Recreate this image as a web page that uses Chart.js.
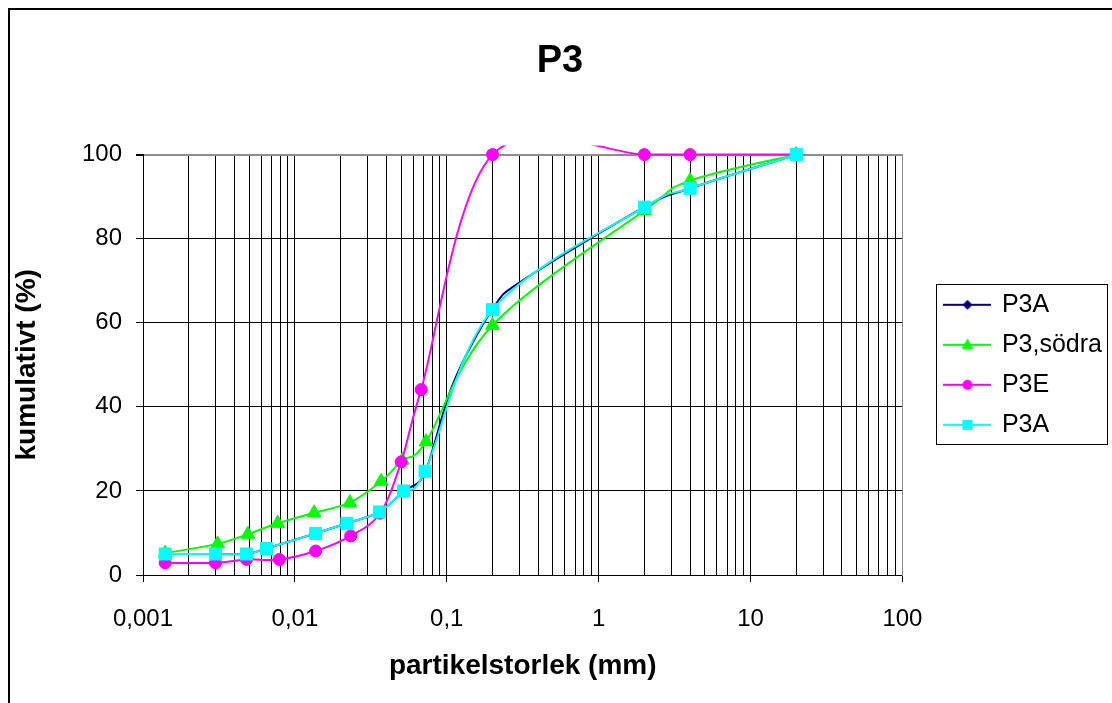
<!DOCTYPE html>
<html lang="sv">
<head>
  <meta charset="UTF-8" />
  <title>P3</title>
  <style>
    body { margin: 0; padding: 0; background: #fff; }
    .wrap { width: 1112px; height: 703px; position: relative; }
  </style>
</head>
<body>
  <div class="wrap"><canvas id="chart"></canvas></div>

  <script src="https://cdn.jsdelivr.net/npm/chart.js"></script>
  <script>
    // particle size (mm) / cumulative passing (%)
    const navyX = [0.0014, 0.003, 0.0048, 0.0065, 0.0137, 0.022, 0.036, 0.052, 0.072, 0.11, 0.2, 0.32, 2, 4, 20];
    const navyY = [5, 5, 5, 6.3, 9.9, 12.3, 15, 20, 24.5, 45.5, 63.2, 70.2, 87.5, 92, 100];

    const greenX = [0.0014, 0.0031, 0.0049, 0.0077, 0.0134, 0.023, 0.037, 0.051, 0.073, 0.2, 2, 4, 20];
    const greenY = [5.2, 7.4, 9.7, 12.3, 14.8, 17.2, 22.3, 27.3, 31.7, 59.4, 86.7, 93.8, 100];

    const magentaX = [0.0014, 0.003, 0.0048, 0.0079, 0.0137, 0.0233, 0.0364, 0.0501, 0.0678, 0.2, 2, 4, 20];
    const magentaY = [2.9, 2.9, 3.7, 3.7, 5.7, 9.3, 14.7, 26.9, 44.1, 100, 100, 100, 100];

    const cyanX = [0.0014, 0.003, 0.0048, 0.0065, 0.0137, 0.022, 0.036, 0.052, 0.072, 0.2, 2, 4, 20];
    const cyanY = [5, 5, 5, 6.3, 9.9, 12.3, 15, 20, 24.7, 63.1, 87.5, 92, 100];

    const seriesNames = ["P3A", "P3,södra", "P3E", "P3A"];
    const decadeValues = [0.001, 0.01, 0.1, 1, 10, 100];
    const decadeLabels = ["0,001", "0,01", "0,1", "1", "10", "100"];

    // navy points drawn without a marker in the original
    const navyNoMarkerX = [0.11, 0.32];

    const font = "'Liberation Sans', Arial, sans-serif";

    function pts(xs, ys) {
      return xs.map((x, i) => ({ x: x, y: ys[i] }));
    }

    function isDecade(v) {
      return decadeValues.some(d => Math.abs(d - v) / d < 1e-6);
    }

    // gridline positions 1..9 x 10^n
    const xTickValues = [];
    for (let e = -3; e <= 1; e++) {
      for (let m = 1; m <= 9; m++) xTickValues.push(Number((m * Math.pow(10, e)).toPrecision(3)));
    }
    xTickValues.push(100);

    function legendIcon(color, shape, r) {
      const c = document.createElement("canvas");
      c.width = 48; c.height = 18;
      const g = c.getContext("2d");
      g.strokeStyle = color; g.lineWidth = 2;
      g.beginPath(); g.moveTo(0, 9); g.lineTo(48, 9); g.stroke();
      g.fillStyle = color;
      g.beginPath();
      if (shape === "diamond") {
        g.moveTo(24, 9 - r); g.lineTo(24 + r, 9); g.lineTo(24, 9 + r); g.lineTo(24 - r, 9);
      } else if (shape === "triangle") {
        g.moveTo(24, 9 - r); g.lineTo(24 + r * 0.9, 9 + r * 0.6); g.lineTo(24 - r * 0.9, 9 + r * 0.6);
      } else if (shape === "circle") {
        g.arc(24, 9, r, 0, Math.PI * 2);
      } else {
        g.rect(24 - r, 9 - r, 2 * r, 2 * r);
      }
      g.closePath();
      g.fill();
      return c;
    }

    const icons = [
      legendIcon("#000080", "diamond", 5),
      legendIcon("#00ff00", "triangle", 6.5),
      legendIcon("#ff00ff", "circle", 5),
      legendIcon("#00ffff", "square", 5)
    ];

    const framePlugin = {
      id: "frame",
      beforeDraw(chart) {
        const ctx = chart.ctx;
        ctx.save();
        ctx.fillStyle = "#fff";
        ctx.fillRect(0, 0, chart.width, chart.height);
        ctx.strokeStyle = "#000";
        ctx.lineWidth = 2;
        ctx.strokeRect(9, 9, chart.width + 20, chart.height + 20);
        ctx.restore();
      },
      afterDraw(chart) {
        const lg = chart.legend;
        if (!lg || !lg.legendHitBoxes.length) return;
        const first = lg.legendHitBoxes[0];
        const last = lg.legendHitBoxes[lg.legendHitBoxes.length - 1];
        const ctx = chart.ctx;
        ctx.save();
        ctx.strokeStyle = "#000";
        ctx.lineWidth = 1;
        const top = Math.round(first.top + first.height / 2 - 21) + 0.5;
        const bottom = Math.round(last.top + last.height / 2 + 19) + 0.5;
        const left = Math.round(first.left - 9) + 0.5;
        ctx.strokeRect(left, top, 171, bottom - top);
        ctx.restore();
      }
    };

    // Excel-like smoothing: bezier handles at 1/6 of the neighbour chord
    function excelHandles() {
      const p = this.points || [];
      for (let i = 0; i < p.length; i++) {
        const a = p[Math.max(i - 1, 0)];
        const b = p[Math.min(i + 1, p.length - 1)];
        const tx = (b.x - a.x) / 6, ty = (b.y - a.y) / 6;
        p[i].cp1x = p[i].x - tx; p[i].cp1y = p[i].y - ty;
        p[i].cp2x = p[i].x + tx; p[i].cp2y = p[i].y + ty;
      }
      this._pointsUpdated = true;
    }

    const smoothPlugin = {
      id: "excelSmooth",
      beforeDatasetsDraw(chart) {
        chart.getSortedVisibleDatasetMetas().forEach(meta => {
          const line = meta.dataset;
          if (!line) return;
          line.updateControlPoints = excelHandles;
          line.updateControlPoints();
          line._path = undefined;
        });
      }
    };

    const common = { borderWidth: 2, tension: 0.3, pointBorderWidth: 1 };

    new Chart(document.getElementById("chart"), {
      type: "line",
      data: {
        datasets: [
          Object.assign({
            label: seriesNames[0], data: pts(navyX, navyY), order: 4,
            borderColor: "#000080", backgroundColor: "#000080",
            pointStyle: "rectRot",
            pointRadius: ctx => navyNoMarkerX.includes(navyX[ctx.dataIndex]) ? 0 : 5.5
          }, common),
          Object.assign({
            label: seriesNames[1], data: pts(greenX, greenY), order: 3,
            borderColor: "#00ff00", backgroundColor: "#00ff00",
            pointStyle: "triangle", pointRadius: 8
          }, common),
          Object.assign({
            label: seriesNames[2], data: pts(magentaX, magentaY), order: 2,
            borderColor: "#ff00ff", backgroundColor: "#ff00ff",
            pointStyle: "circle", pointRadius: 6
          }, common),
          Object.assign({
            label: seriesNames[3], data: pts(cyanX, cyanY), order: 1,
            borderColor: "#00ffff", backgroundColor: "#00ffff",
            pointStyle: "rect", pointRadius: 8.5
          }, common)
        ]
      },
      options: {
        responsive: true,
        maintainAspectRatio: false,
        animation: false,
        events: [],
        layout: { padding: { left: 8, top: 8, right: 0, bottom: 0 } },
        elements: { line: { capBezierPoints: false } },
        datasets: { line: { clip: { left: 12, right: 12, top: 9, bottom: 12 } } },
        scales: {
          x: {
            type: "logarithmic",
            min: 0.001,
            max: 100,
            afterBuildTicks: axis => {
              axis.ticks = xTickValues.map(v => ({ value: v, major: isDecade(v) }));
            },
            afterFit: s => { s.height = 128; },
            ticks: {
              autoSkip: false,
              maxRotation: 0,
              padding: 23,
              color: "#000",
              font: { family: font, size: 24 },
              callback: v => {
                const i = decadeValues.findIndex(d => Math.abs(d - v) / d < 1e-6);
                return i >= 0 ? decadeLabels[i] : "";
              }
            },
            grid: {
              color: "#000",
              lineWidth: 1,
              tickLength: 7,
              tickColor: ctx => (ctx.tick && isDecade(ctx.tick.value)) ? "#000" : "rgba(0,0,0,0)"
            },
            border: { display: true, color: "#000", width: 1 },
            title: {
              display: true,
              text: "partikelstorlek (mm)",
              color: "#000",
              font: { family: font, size: 28, weight: "bold" },
              padding: { top: 0, bottom: 20 }
            }
          },
          y: {
            min: 0,
            max: 100,
            afterFit: s => { s.width = 135; },
            ticks: {
              stepSize: 20,
              padding: 14,
              color: "#000",
              font: { family: font, size: 24 }
            },
            grid: {
              color: ctx => (ctx.tick && ctx.tick.value === 100) ? "#8c8c8c" : "#000",
              lineWidth: ctx => (ctx.tick && ctx.tick.value === 100) ? 2 : 1,
              tickLength: 7,
              tickColor: "#000"
            },
            border: { display: true, color: "#000", width: 1 },
            title: {
              display: true,
              text: "kumulativt (%)",
              color: "#000",
              font: { family: font, size: 28, weight: "bold" },
              padding: { top: 2, bottom: 0 }
            }
          },
          y2: {
            position: "right",
            display: true,
            afterFit: s => { s.width = 28; },
            grid: { display: false, drawTicks: false },
            ticks: { display: false },
            border: { display: true, color: "#8c8c8c", width: 1 }
          }
        },
        plugins: {
          title: {
            display: true,
            text: "P3",
            color: "#000",
            font: { family: font, size: 38, weight: "bold" },
            padding: { top: 31, bottom: 70 }
          },
          legend: {
            position: "right",
            fullSize: false,
            labels: {
              usePointStyle: true,
              pointStyleWidth: 44,
              padding: 15,
              color: "#000",
              font: { family: font, size: 25 },
              sort: (a, b) => a.datasetIndex - b.datasetIndex,
              generateLabels: chart => {
                const items = Chart.defaults.plugins.legend.labels.generateLabels(chart);
                items.forEach(it => { it.pointStyle = icons[it.datasetIndex]; });
                return items;
              }
            }
          },
          tooltip: { enabled: false }
        }
      },
      plugins: [framePlugin, smoothPlugin]
    });
  </script>
</body>
</html>
